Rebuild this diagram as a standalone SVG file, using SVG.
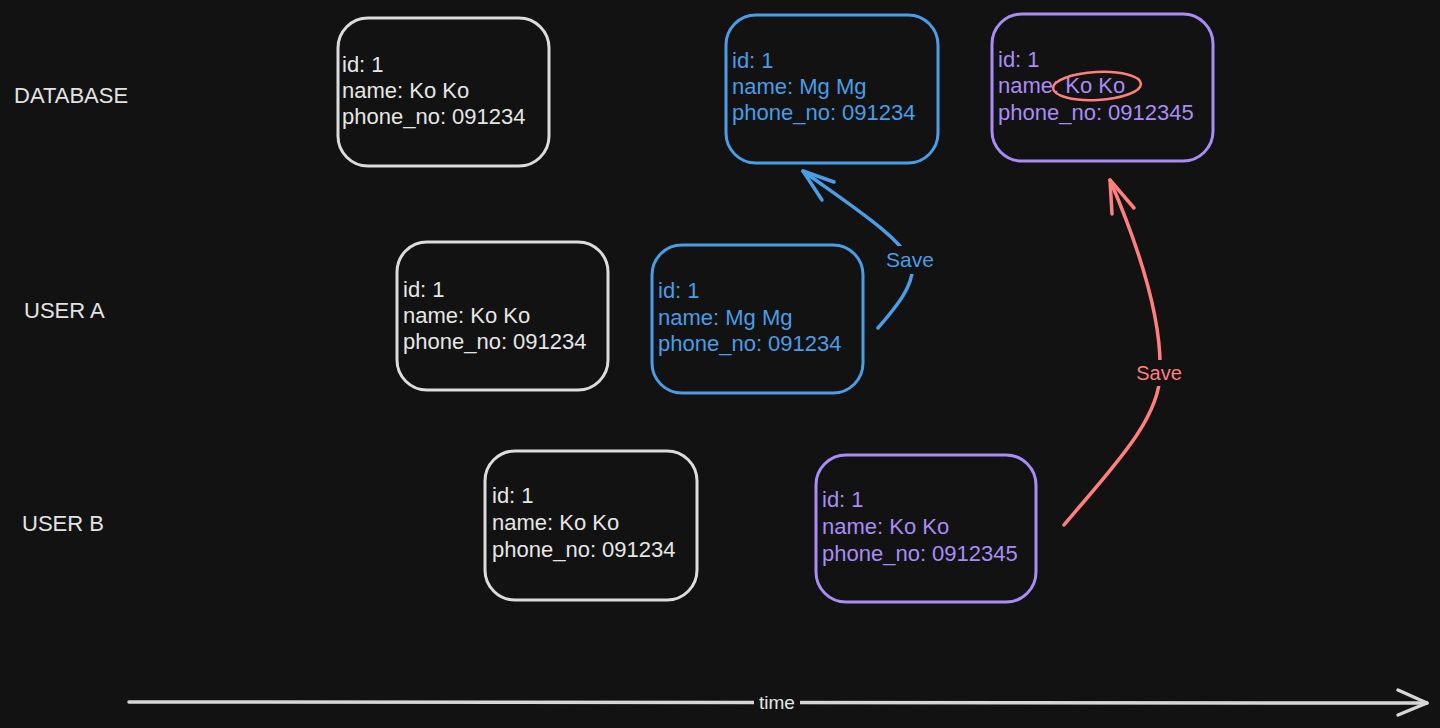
<svg xmlns="http://www.w3.org/2000/svg" width="1440" height="728" viewBox="0 0 1440 728">
<style>
  .box{fill:none;stroke-width:3;stroke-linecap:round;stroke-linejoin:round}
  .t{font-family:"Liberation Sans",Arial,sans-serif;font-size:22px}
  .lbl{font-family:"Liberation Sans",Arial,sans-serif;font-size:22px;fill:#e3e3e3}
  .w{stroke:#dcdcdc}
  .wt{fill:#e6e6e6}
  .b{stroke:#4a9de6}
  .bt{fill:#4a9de6}
  .p{stroke:#a98cf6}
  .pt{fill:#a98cf6}
  .conn{fill:none;stroke-width:3.5;stroke-linecap:round;stroke-linejoin:round}
</style>
<rect x="0" y="0" width="1440" height="728" fill="#121212"/>

<g id="labels">
  <text class="lbl" x="14" y="103">DATABASE</text>
  <text class="lbl" x="24" y="318">USER A</text>
  <text class="lbl" x="22" y="531">USER B</text>
</g>

<g id="db-1">
  <rect class="box w" x="338" y="18" width="211" height="148" rx="30"/>
  <text class="t wt" x="342"><tspan x="342" y="72">id: 1</tspan><tspan x="342" y="98">name: Ko Ko</tspan><tspan x="342" y="124">phone_no: 091234</tspan></text>
</g>
<g id="db-2">
  <rect class="box b" x="726" y="15" width="212" height="148" rx="30"/>
  <text class="t bt"><tspan x="732" y="68">id: 1</tspan><tspan x="732" y="94">name: Mg Mg</tspan><tspan x="732" y="120">phone_no: 091234</tspan></text>
</g>
<g id="db-3">
  <rect class="box p" x="992" y="14" width="221" height="147" rx="30"/>
  <text class="t pt"><tspan x="998" y="67">id: 1</tspan><tspan x="998" y="93">name: Ko Ko</tspan><tspan x="998" y="120">phone_no: 0912345</tspan></text>
  <ellipse cx="1097" cy="86" rx="44" ry="14" fill="none" stroke="#ff7f7f" stroke-width="2.5" transform="rotate(-3 1097 86)"/>
</g>

<g id="a-1">
  <rect class="box w" x="397" y="242" width="211" height="148" rx="30"/>
  <text class="t wt"><tspan x="403" y="297">id: 1</tspan><tspan x="403" y="323">name: Ko Ko</tspan><tspan x="403" y="349">phone_no: 091234</tspan></text>
</g>
<g id="a-2">
  <rect class="box b" x="652" y="245" width="211" height="148" rx="30"/>
  <text class="t bt"><tspan x="658" y="298">id: 1</tspan><tspan x="658" y="325">name: Mg Mg</tspan><tspan x="658" y="351">phone_no: 091234</tspan></text>
</g>

<g id="b-1">
  <rect class="box w" x="485" y="451" width="212" height="149" rx="30"/>
  <text class="t wt"><tspan x="492" y="503">id: 1</tspan><tspan x="492" y="530">name: Ko Ko</tspan><tspan x="492" y="557">phone_no: 091234</tspan></text>
</g>
<g id="b-2">
  <rect class="box p" x="816" y="455" width="220" height="147" rx="30"/>
  <text class="t pt"><tspan x="822" y="507">id: 1</tspan><tspan x="822" y="534">name: Ko Ko</tspan><tspan x="822" y="561">phone_no: 0912345</tspan></text>
</g>

<g id="connectors">
  <path class="conn b" d="M878 328 C895 308 915 285 912 265 C905 240 850 205 803 171"/>
  <path class="conn b" d="M834 182 L803 171 L822 200"/>
  <rect x="881" y="246" width="58" height="28" fill="#121212"/>
  <text x="910" y="267" text-anchor="middle" font-family="Liberation Sans,Arial,sans-serif" font-size="21" fill="#4a9de6">Save</text>

  <path class="conn" stroke="#ff7f7f" d="M1064 525 C1110 470 1160 420 1160 373 C1162 320 1140 250 1110 180"/>
  <path class="conn" stroke="#ff7f7f" d="M1112 214 L1110 180 L1134 208"/>
  <rect x="1130" y="360" width="58" height="26" fill="#121212"/>
  <text x="1159" y="380" text-anchor="middle" font-family="Liberation Sans,Arial,sans-serif" font-size="20" fill="#ff7f7f">Save</text>

  <path class="conn" stroke="#d6d6d6" stroke-width="4" d="M129 702 L1427 703"/>
  <path class="conn" stroke="#d6d6d6" stroke-width="4" d="M1398 690 L1427 703 L1398 715"/>
  <rect x="754" y="690" width="46" height="24" fill="#121212"/>
  <text x="777" y="709" text-anchor="middle" font-family="Liberation Sans,Arial,sans-serif" font-size="19" fill="#e6e6e6">time</text>
</g>
</svg>
